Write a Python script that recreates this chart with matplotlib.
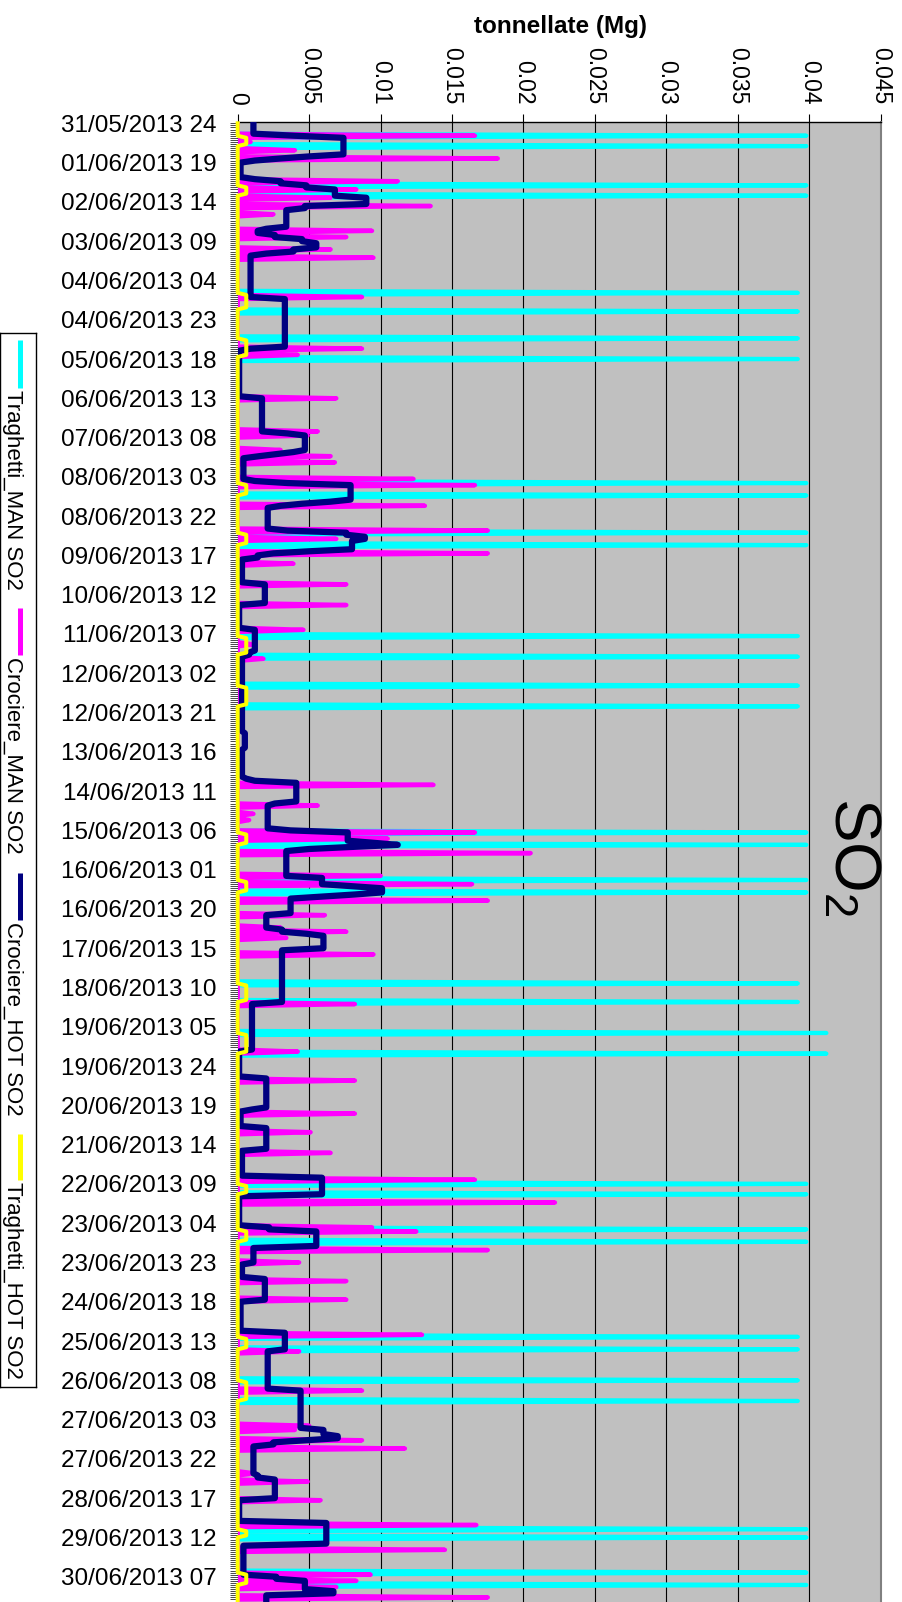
"""
SO2 emissions (tonnellate) per hour, June 2013 - chart is drawn rotated:
time runs top -> bottom, values left -> right.
"""
import numpy as np
import pandas as pd
import matplotlib
matplotlib.use("Agg")
import matplotlib.pyplot as plt

plt.rcParams["font.family"] = ["Liberation Sans", "DejaVu Sans"]
plt.rcParams["mathtext.fontset"] = "custom"
plt.rcParams["mathtext.rm"] = "Liberation Sans"

N_HOURS = 720
START = pd.Timestamp("2013-06-01 00:00")   # shown as 31/05/2013 24
LABEL_STEP = 19

# Traghetti_MAN SO2 : isolated spikes (hour index -> t)
trag_man_hours = [6, 11, 30, 35, 82, 91, 104, 114, 174, 180, 198, 204,
                  248, 258, 272, 282, 343, 349, 366, 372, 416, 425, 440, 450,
                  513, 518, 535, 541, 587, 593, 608, 618, 680, 684, 701, 707]
trag_man_vals = [0.0398, 0.0398, 0.0398, 0.0398, 0.0392, 0.0392, 0.0392, 0.0392,
                 0.0398, 0.0398, 0.0398, 0.0398, 0.0392, 0.0392, 0.0392, 0.0392,
                 0.0398, 0.0398, 0.0398, 0.0398, 0.0392, 0.0392, 0.0412, 0.0412,
                 0.0398, 0.0398, 0.0398, 0.0398, 0.0392, 0.0392, 0.0392, 0.0392,
                 0.0398, 0.0398, 0.0398, 0.0398]

# Crociere_MAN SO2 : spikes
croc_man_hours = [6, 9, 13, 17, 28, 32, 36, 40, 44, 52, 55, 61, 65, 84, 109, 112,
                  133, 149, 151, 158, 161, 164, 172, 175, 185, 197, 201, 208, 213,
                  223, 233, 245, 252, 259, 320, 330, 334, 337, 343, 346, 353,
                  364, 368, 376, 383, 389, 391, 394, 402, 426, 449, 463,
                  479, 488, 498, 511, 522, 534, 536, 545, 551, 560, 569, 586, 594,
                  613, 630, 632, 637, 641, 653, 657, 666, 678, 690, 702, 705, 708, 713]
croc_man_vals = [0.0166, 0.0009, 0.0040, 0.0182, 0.0112, 0.0083, 0.0065, 0.0135,
                 0.0025, 0.0094, 0.0076, 0.0065, 0.0095, 0.0087, 0.0087, 0.0042,
                 0.0069, 0.0056, 0.0049, 0.0030, 0.0065, 0.0068, 0.0123, 0.0166,
                 0.0131, 0.0175, 0.0069, 0.0175, 0.0039, 0.0076, 0.0076,
                 0.0046, 0.0010, 0.0018, 0.0137, 0.0056, 0.0011, 0.0008, 0.0166,
                 0.0105, 0.0205, 0.0100, 0.0164, 0.0175, 0.0061, 0.0030, 0.0076,
                 0.0034, 0.0095, 0.0082, 0.0042, 0.0082,
                 0.0082, 0.0051, 0.0065, 0.0166, 0.0222, 0.0094, 0.0125, 0.0175,
                 0.0043, 0.0076, 0.0076, 0.0129, 0.0043,
                 0.0087, 0.0050, 0.0040, 0.0087, 0.0117, 0.0012, 0.0049, 0.0058,
                 0.0167, 0.0145, 0.0093, 0.0083, 0.0069, 0.0175]

# Crociere_HOT SO2 : level changes (hour index where level starts, level)
croc_hot_start = [0, 6, 7, 16, 17, 18, 19, 27, 28, 30, 32, 36, 40, 42, 51, 52, 54, 56,
                  58, 61, 63, 64, 85, 109, 110, 133, 150, 151, 159, 160, 161, 162,
                  173, 174, 175, 183, 184, 185, 186, 197, 198, 200, 202, 207, 208,
                  209, 211, 223, 233, 245, 256, 258, 295, 303, 317, 318, 319, 329,
                  330, 342, 343, 348, 349, 350, 351, 352, 365, 369, 370, 373, 374,
                  375, 383, 390, 392, 393, 400, 426, 449, 462, 477, 478, 486, 497,
                  510, 519, 534, 536, 544, 552, 559, 570, 585, 594, 613, 632, 635,
                  637, 638, 640, 654, 656, 666, 677, 688, 703, 705, 710, 712]
croc_hot_level = [0.0011, 0.0040, 0.0074, 0.0050, 0.0030, 0.0012, 0.0002, 0.0012,
                  0.0030, 0.0048, 0.0068, 0.0090, 0.0047, 0.0034, 0.0020, 0.0014,
                  0.0026, 0.0045, 0.0055, 0.0039, 0.0020, 0.0009, 0.0033, 0.0009,
                  0.0001, 0.0017, 0.0035, 0.0047, 0.0039, 0.0027, 0.0015, 0.0004,
                  0.0012, 0.0035, 0.0079, 0.0065, 0.0045, 0.0030, 0.0021, 0.0035,
                  0.0076, 0.0089, 0.0080, 0.0050, 0.0025, 0.0014, 0.0003, 0.0019,
                  0.0001, 0.0012, 0.0008, 0.0003, 0.0005, 0.0003, 0.0006, 0.0012,
                  0.0041, 0.0026, 0.0021, 0.0037, 0.0077, 0.0095, 0.0112, 0.0080,
                  0.0050, 0.0034, 0.0059, 0.0080, 0.0101, 0.0082, 0.0060, 0.0037,
                  0.0020, 0.0031, 0.0048, 0.0060, 0.0031, 0.0010, 0.0001, 0.0020,
                  0.0010, 0.0002, 0.0020, 0.0003, 0.0059, 0.0001, 0.0022, 0.0055,
                  0.0011, 0.0003, 0.0019, 0.0002, 0.0033, 0.0021, 0.0044, 0.0060,
                  0.0070, 0.0047, 0.0025, 0.0011, 0.0014, 0.0026, 0.0001, 0.0062,
                  0.0004, 0.0027, 0.0047, 0.0067, 0.0020]

# Traghetti_HOT SO2 : plateaus while ferries are at berth (first hour, last hour)
trag_hot_from = [7, 31, 83, 105, 175, 199, 249, 273, 344, 367, 417, 441,
                 514, 536, 588, 609, 681, 702]
trag_hot_to = [10, 34, 89, 112, 179, 203, 256, 281, 348, 371, 424, 449,
               517, 540, 592, 617, 683, 706]
trag_hot_level = 0.0006

x_ticks = [0, 0.005, 0.01, 0.015, 0.02, 0.025, 0.03, 0.035, 0.04, 0.045]
x_ticklabels = ["0", "0.005", "0.01", "0.015", "0.02", "0.025", "0.03",
                "0.035", "0.04", "0.045"]

# ---- build hourly series
hours = np.arange(N_HOURS)
trag_man = np.zeros(N_HOURS)
trag_man[trag_man_hours] = trag_man_vals
croc_man = np.zeros(N_HOURS)
croc_man[croc_man_hours] = croc_man_vals
croc_hot = np.zeros(N_HOURS)
ends = croc_hot_start[1:] + [N_HOURS]
for s, e, v in zip(croc_hot_start, ends, croc_hot_level):
    croc_hot[s:e] = v
trag_hot = np.zeros(N_HOURS)
for a, b in zip(trag_hot_from, trag_hot_to):
    trag_hot[a:b + 1] = trag_hot_level


def hour_label(h):
    t = START + pd.Timedelta(hours=int(h))
    if t.hour == 0:
        return (t - pd.Timedelta(days=1)).strftime("%d/%m/%Y") + " 24"
    return t.strftime("%d/%m/%Y %H")


label_hours = np.arange(0, N_HOURS, LABEL_STEP)
date_labels = [hour_label(h) for h in label_hours]

CYAN, MAGENTA, NAVY, YELLOW = "#00FFFF", "#FF00FF", "#000080", "#FFFF00"

W, H = 902, 1602
fig = plt.figure(figsize=(W / 100, H / 100), dpi=100)

px_hr = 2.0674
top_px = 122.3
ax_h = N_HOURS * px_hr
ax = fig.add_axes([237.7 / W, 1 - (top_px + ax_h) / H, 643.0 / W, ax_h / H])
ax.set_facecolor("#C0C0C0")
ax.set_xlim(0, 0.045)
ax.set_ylim(N_HOURS - 0.5, -0.5)

ax.plot(trag_man, hours, color=CYAN, lw=3.0, zorder=3)
ax.plot(croc_man, hours, color=MAGENTA, lw=3.2, zorder=4)
ax.plot(croc_hot, hours, color=NAVY, lw=4.5, zorder=5)
ax.plot(trag_hot, hours, color=YELLOW, lw=2.9, zorder=6, clip_on=False)

ax.set_axisbelow(True)
ax.grid(axis="x", color="black", lw=0.8)
ax.grid(axis="y", visible=False)

ax.xaxis.tick_top()
ax.set_xticks(x_ticks)
ax.set_xticklabels(x_ticklabels, rotation=-90, fontsize=16.5)
ax.tick_params(axis="x", direction="out", length=5.8, width=0.8, pad=7)

ax.set_yticks(label_hours)
ax.set_yticklabels(date_labels, fontsize=17.5)
ax.set_yticks(hours, minor=True)
ax.tick_params(axis="y", which="both", direction="out", length=5.5, width=0.5, pad=9.5)

ax.spines["right"].set_color("#808080")
ax.spines["right"].set_linewidth(1.5)
ax.spines["bottom"].set_visible(False)
ax.spines["top"].set_linewidth(1.0)

fig.text(560 / W, 1 - 27 / H, "tonnellate (Mg)", fontsize=17.5, fontweight="bold",
         ha="center", va="center")

fig.text(835 / W, 1 - 797 / H, r"SO$_\mathrm{2}$", fontsize=47, rotation=-90,
         rotation_mode="anchor", ha="left", va="baseline")

# ---- legend, drawn rotated by hand in pixel units
lax = fig.add_axes([0, 1 - 1387 / H, 36 / W, (1387 - 333) / H])
lax.set_xlim(0, 36)
lax.set_ylim(1387, 333)
lax.set_xticks([])
lax.set_yticks([])
for sp in lax.spines.values():
    sp.set_linewidth(1.0)
legend_items = [
    (CYAN, 340, 388, "Traghetti_MAN SO2"),
    (MAGENTA, 608, 655, "Crociere_MAN SO2"),
    (NAVY, 873, 920, "Crociere_HOT SO2"),
    (YELLOW, 1134, 1180, "Traghetti_HOT SO2"),
]
for col, y0, y1, txt in legend_items:
    lax.plot([19.5, 19.5], [y0, y1], color=col, lw=3.6, solid_capstyle="butt")
    lax.text(7, y1 + 2, txt, fontsize=16, rotation=-90, rotation_mode="anchor",
             ha="left", va="baseline")

fig.savefig("out.png", dpi=100)
